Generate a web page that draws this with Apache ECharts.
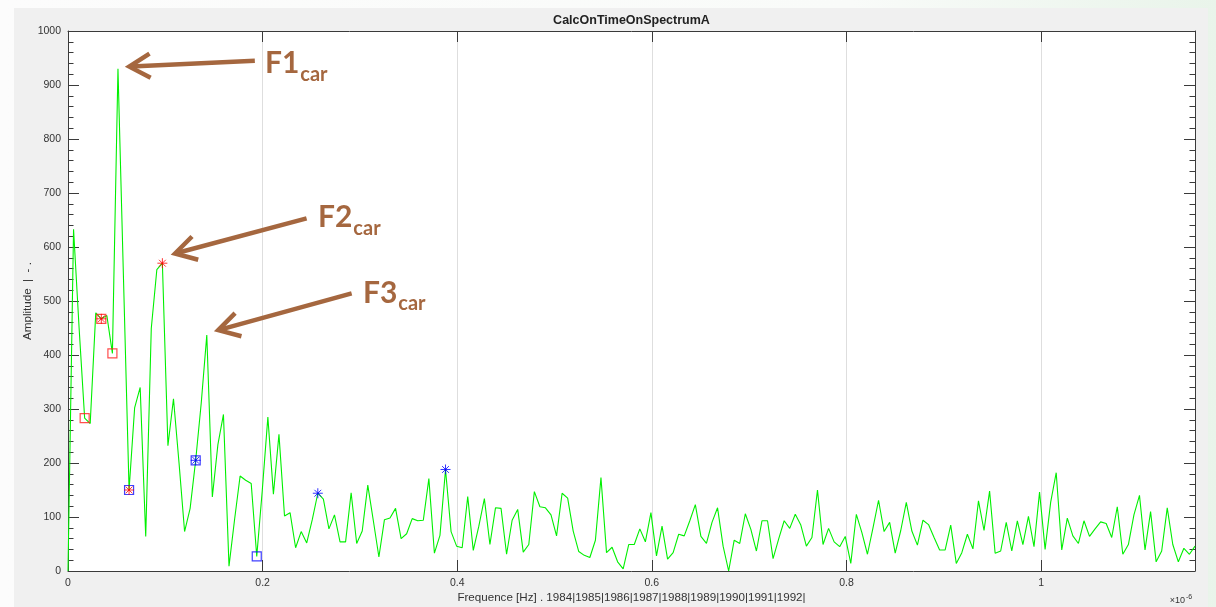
<!DOCTYPE html>
<html><head><meta charset="utf-8">
<script src="https://cdn.jsdelivr.net/npm/echarts@6/dist/echarts.min.js"></script>
<style>
html,body{margin:0;padding:0;width:1216px;height:607px;overflow:hidden;background:linear-gradient(90deg,#fcfcfc 0%,#f9fbf9 70%,#e9f4ea 100%);}
#fig{position:absolute;left:14px;top:8px;width:1194px;height:599px;background:#f0f0f0;}
#chart{position:absolute;left:0;top:0;width:1216px;height:607px;}
</style></head><body><div id="fig"></div><div id="chart"></div>
<script>
// frequency spacing (x 1e-6 Hz) between spectrum bins
const freqStep = 0.0057055;
// amplitude per frequency bin
const amplitude = [
  0,633,450,283,273,478,467,473,403,930,
  540,150,302,340,64,449,558,570,232,319,
  200,73,116,205,311,437,137,234,290,9,
  95,176,168,162,27,150,285,142,253,102,
  108,43,73,52,95,144,133,78,104,54,
  54,145,51,74,159,93,26,95,98,116,
  60,69,97,93,94,171,33,66,188,73,
  46,43,138,38,83,134,49,117,116,31,
  94,114,35,49,147,119,117,104,65,144,
  135,74,36,29,25,57,173,34,44,17,
  4,49,49,78,54,108,28,83,22,34,
  68,65,93,123,64,51,90,117,46,0,
  57,51,106,77,37,93,93,23,59,93,
  79,105,85,46,62,150,49,79,54,45,
  64,14,105,71,31,80,131,73,90,33,
  75,127,74,48,94,86,62,39,39,85,
  14,34,68,41,130,75,148,33,37,90,
  37,93,49,101,45,146,40,127,182,39,
  98,65,51,93,64,78,91,88,62,119,
  31,49,104,140,39,110,17,37,117,49,
  17,42,31,46
];
const xTickLabels = ['0','0.2','0.4','0.6','0.8','1'];
const redSquareIdx = [3,6,8];
const redStarIdx = [6,11,17];
const blueSquareIdx = [11,23,34];
const blueStarIdx = [23,45,68];
const annotLabels = ['F1','F2','F3'];
const annotSub = 'car';
// annotation anchors in data units: arrow tip, arrow tail, text (left, cap-middle)
const annotTips = [[0.063,934],[0.110,588],[0.1544,446]];
const annotTails = [[0.192,945],[0.2452,653],[0.2915,514]];
const annotText = [[0.2024,940],[0.2569,655],[0.3031,515]];

const brown = '#a5673f';
const axisColor = '#3a3a3a';
const txtColor = '#333';
const fam = '"Liberation Sans", Arial, sans-serif';

const pts = idx => idx.map(i => [i * freqStep, amplitude[i]]);
const xMax = (amplitude.length - 1) * freqStep;
const starPath = 'path://M0,5L10,5M5,0L5,10M1.6,1.6L8.4,8.4M1.6,8.4L8.4,1.6';

const xFmt = v => { const k = Math.round(v / 0.2); return Math.abs(v - k * 0.2) < 1e-7 && xTickLabels[k] !== undefined ? xTickLabels[k] : ''; };

const dom = document.getElementById('chart');
const chart = echarts.init(dom, null, {renderer:'canvas', width:1216, height:607});
const xCommon = {type:'value', min:0, max:xMax, interval:0.2,
  axisLine:{show:true, onZero:false, lineStyle:{color:axisColor, width:1}},
  axisTick:{show:true, inside:true, length:11, lineStyle:{color:axisColor}}};
const yCommon = {type:'value', min:0, max:1000, interval:100,
  axisLine:{show:true, onZero:false, lineStyle:{color:axisColor, width:1}},
  axisTick:{show:true, inside:true, length:11, lineStyle:{color:axisColor}},
  minorTick:{show:true, splitNumber:5, length:5.5, lineStyle:{color:axisColor}},
  splitLine:{show:false}};
chart.setOption({
  animation:false,
  backgroundColor:'transparent',
  grid:{left:68, top:31, right:21, bottom:36, show:true, backgroundColor:'#ffffff', borderWidth:0,
        containLabel:false, outerBoundsMode:'none'},
  xAxis:[
    Object.assign({}, xCommon, {position:'bottom',
      axisLabel:{show:true, formatter:xFmt, color:txtColor, fontSize:10.5, fontFamily:fam, margin:7},
      splitLine:{show:true, lineStyle:{color:'#dedede', width:1}},
      name:'Frequence [Hz] . 1984|1985|1986|1987|1988|1989|1990|1991|1992|',
      nameLocation:'middle', nameGap:21, nameMoveOverlap:false,
      nameTextStyle:{color:txtColor, fontSize:11.6, fontFamily:fam}}),
    Object.assign({}, xCommon, {position:'top', axisLabel:{show:false}, splitLine:{show:false}})
  ],
  yAxis:[
    Object.assign({}, yCommon, {position:'left',
      axisLabel:{show:true, formatter:v => String(v), color:txtColor, fontSize:10.5, fontFamily:fam, margin:7},
      name:'Amplitude  |  - .', nameLocation:'middle', nameGap:34, nameRotate:90, nameMoveOverlap:false,
      nameTextStyle:{color:txtColor, fontSize:11.6, fontFamily:fam}}),
    Object.assign({}, yCommon, {position:'right', axisLabel:{show:false}})
  ],
  series:[
    {type:'line', data:amplitude.map((v,i)=>[i*freqStep, v]), showSymbol:false, symbol:'none',
     lineStyle:{color:'#00f000', width:1.1}, z:2},
    {type:'scatter', data:pts(redSquareIdx), symbol:'rect', symbolSize:9,
     itemStyle:{color:'rgba(0,0,0,0)', borderColor:'#ff2020', borderWidth:1.2}, z:3},
    {type:'scatter', data:pts(blueSquareIdx), symbol:'rect', symbolSize:9,
     itemStyle:{color:'rgba(0,0,0,0)', borderColor:'#1010ff', borderWidth:1.2}, z:3},
    {type:'scatter', data:pts(redStarIdx), symbol:starPath, symbolSize:10,
     itemStyle:{color:'#ff0000', borderColor:'#ff0000', borderWidth:1}, z:4},
    {type:'scatter', data:pts(blueStarIdx), symbol:starPath, symbolSize:10,
     itemStyle:{color:'#0000ff', borderColor:'#0000ff', borderWidth:1}, z:4}
  ]
});

function px(p){ return chart.convertToPixel({xAxisIndex:0, yAxisIndex:0}, p); }
const ctx = document.createElement('canvas').getContext('2d');
const mainFont = 'bold 30px Lato';
ctx.font = mainFont;
const graphics = [];
annotLabels.forEach((lab, k) => {
  const tip = px(annotTips[k]), tail = px(annotTails[k]), tp = px(annotText[k]);
  const dx = tail[0]-tip[0], dy = tail[1]-tip[1], L = Math.hypot(dx,dy);
  const ux = dx/L, uy = dy/L, wl = 24, a = 30*Math.PI/180;
  const w1 = [tip[0] + wl*(ux*Math.cos(a) - uy*Math.sin(a)), tip[1] + wl*(ux*Math.sin(a) + uy*Math.cos(a))];
  const w2 = [tip[0] + wl*(ux*Math.cos(-a) - uy*Math.sin(-a)), tip[1] + wl*(ux*Math.sin(-a) + uy*Math.cos(-a))];
  graphics.push({type:'polyline', shape:{points:[tail, [tip[0]+ux*2, tip[1]+uy*2]]}, style:{stroke:brown, lineWidth:4.5, fill:null}, z:10});
  graphics.push({type:'polyline', shape:{points:[w1, tip, w2]}, style:{stroke:brown, lineWidth:4.5, fill:null, lineJoin:'miter'}, z:10});
  const w = ctx.measureText(lab).width;
  graphics.push({type:'text', x:tp[0], y:tp[1], style:{text:lab, fill:brown, font:mainFont, align:'left', verticalAlign:'middle'}, z:10});
  graphics.push({type:'text', x:tp[0]+w+1, y:tp[1]+11, style:{text:annotSub, fill:brown, font:'bold 20px Lato', align:'left', verticalAlign:'middle'}, z:10});
});
graphics.push({type:'text', x:631.5, y:21, style:{text:'CalcOnTimeOnSpectrumA', fill:'#222', font:'bold 12.5px "Liberation Sans", Arial', align:'center', verticalAlign:'middle'}});
graphics.push({type:'text', x:1185, y:601, style:{text:'×10', fill:txtColor, font:'9px "Liberation Sans", Arial', align:'right', verticalAlign:'middle'}});
graphics.push({type:'text', x:1186, y:597, style:{text:'-6', fill:txtColor, font:'7px "Liberation Sans", Arial', align:'left', verticalAlign:'middle'}});
chart.setOption({graphic:graphics});
</script></body></html>
